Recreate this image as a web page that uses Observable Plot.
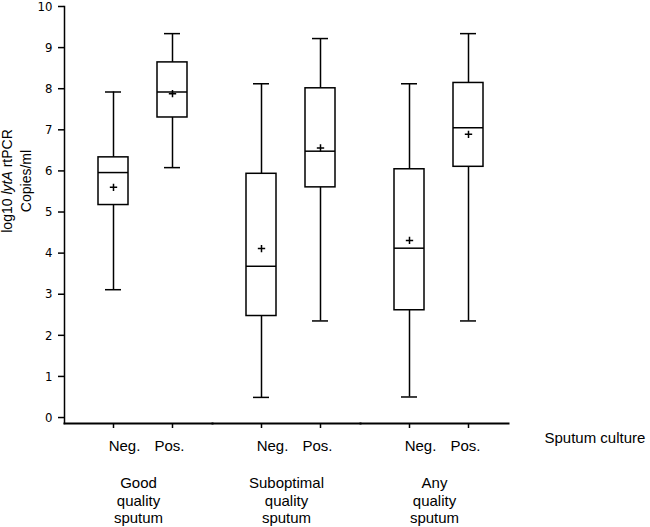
<!DOCTYPE html>
<html>
<head>
<meta charset="utf-8">
<script src="https://cdn.jsdelivr.net/npm/d3@7"></script>
<script src="https://cdn.jsdelivr.net/npm/@observablehq/plot@0.6"></script>
<style>
  body { margin: 0; background: #fff; }
  #chart svg { display: block; }
</style>
</head>
<body>
<div id="chart"></div>
<script>
// ---- data ----
const groups = ["Good", "Suboptimal", "Any"];
const groupLabels = ["Good\nquality\nsputum", "Suboptimal\nquality\nsputum", "Any\nquality\nsputum"];
const cultures = ["Neg.", "Pos."];
const yTicks = [0, 1, 2, 3, 4, 5, 6, 7, 8, 9, 10];
const xTitle = "Sputum culture";
// box order: Good Neg, Good Pos, Suboptimal Neg, Suboptimal Pos, Any Neg, Any Pos
const whiskerLow  = [3.11, 6.08, 0.49, 2.35, 0.50, 2.35];
const quartile1   = [5.17, 7.30, 2.47, 5.60, 2.61, 6.10];
const medians     = [5.96, 7.92, 3.68, 6.48, 4.12, 7.05];
const means       = [5.60, 7.88, 4.11, 6.56, 4.31, 6.89];
const quartile3   = [6.33, 8.64, 5.93, 8.01, 6.04, 8.14];
const whiskerHigh = [7.92, 9.34, 8.12, 9.22, 8.12, 9.34];

const rows = [];
groups.forEach((g, i) => cultures.forEach((c, j) => {
  const k = i * cultures.length + j;
  rows.push({group: g, culture: c, low: whiskerLow[k], q1: quartile1[k], median: medians[k],
             mean: means[k], q3: quartile3[k], high: whiskerHigh[k]});
}));
const groupRows = groups.map((g, i) => ({group: g, label: groupLabels[i]}));

const font = "'Liberation Sans', Arial, Helvetica, sans-serif";
const narrow = "'Liberation Sans Narrow', 'Arial Narrow', 'DejaVu Sans Condensed', sans-serif";
const fb = {fx: "group", x: "culture"};

const chart = Plot.plot({
  width: 650,
  height: 527,
  marginLeft: 63,
  marginRight: 141.5,
  marginTop: 6,
  marginBottom: 104,
  style: {fontFamily: font, fontSize: "15px", background: "white", color: "black", overflow: "visible"},
  fx: {domain: groups, padding: 0, axis: null, label: null},
  x: {domain: cultures, paddingInner: 0.5, paddingOuter: 0, insetLeft: 33, insetRight: 25.5, axis: null},
  y: {domain: [-0.145, 10], axis: null},
  marks: [
    Plot.frame({anchor: "left", facetAnchor: "left", stroke: "black", strokeWidth: 1.5}),
    Plot.frame({anchor: "bottom", stroke: "black", strokeWidth: 2}),
    Plot.axisY({ticks: yTicks, tickSize: 6, tickPadding: 6, tickFormat: d3.format("d"),
                fontFamily: narrow, fontSize: 13, label: null, strokeWidth: 1.5}),
    Plot.axisX({tickSize: 5, tickFormat: () => "", label: null, strokeWidth: 1.5}),
    Plot.ruleX(rows, {...fb, y1: "low", y2: "high", stroke: "black", strokeWidth: 1.5}),
    Plot.tickY(rows, {...fb, y: "low", insetLeft: 7, insetRight: 7, stroke: "black", strokeWidth: 1.5}),
    Plot.tickY(rows, {...fb, y: "high", insetLeft: 7, insetRight: 7, stroke: "black", strokeWidth: 1.5}),
    Plot.barY(rows, {...fb, y1: "q1", y2: "q3", fill: "white", stroke: "black", strokeWidth: 1.5}),
    Plot.tickY(rows, {...fb, y: "median", stroke: "black", strokeWidth: 1.5}),
    Plot.dot(rows, {...fb, y: "mean", symbol: "plus", r: 2.5, stroke: "black", strokeWidth: 1.5}),
    Plot.text(rows, {...fb, filter: d => d.culture === "Neg.", text: "culture", frameAnchor: "bottom",
                     lineAnchor: "top", dy: 17, dx: 11, fontSize: 15, fill: "black"}),
    Plot.text(rows, {...fb, filter: d => d.culture === "Pos.", text: "culture", frameAnchor: "bottom",
                     lineAnchor: "top", dy: 17, dx: -3, fontSize: 15, fill: "black"}),
    Plot.text(groupRows, {fx: "group", text: "label", frameAnchor: "bottom", lineAnchor: "top",
                          dy: 52, lineHeight: 1.17, fontSize: 15, fill: "black"}),
    Plot.text([xTitle], {text: d => d, facetAnchor: "right", frameAnchor: "bottom-right",
                         textAnchor: "start", lineAnchor: "top", dx: 36, dy: 8.5, fontSize: 15, fill: "black"})
  ]
});

document.getElementById("chart").appendChild(chart);

// y-axis title with italic gene name
const svg = d3.select(chart.tagName.toLowerCase() === "svg" ? chart : chart.querySelector("svg"));
const ylab = svg.append("g")
  .attr("font-family", font)
  .attr("font-size", 14)
  .attr("fill", "black")
  .attr("text-anchor", "middle");
const l1 = ylab.append("text").attr("transform", "translate(12,181) rotate(-90)");
l1.append("tspan").text("log10 ");
l1.append("tspan").attr("font-style", "italic").text("lytA");
l1.append("tspan").text(" rtPCR");
ylab.append("text").attr("transform", "translate(31,181) rotate(-90)").text("Copies/ml");
</script>
</body>
</html>
